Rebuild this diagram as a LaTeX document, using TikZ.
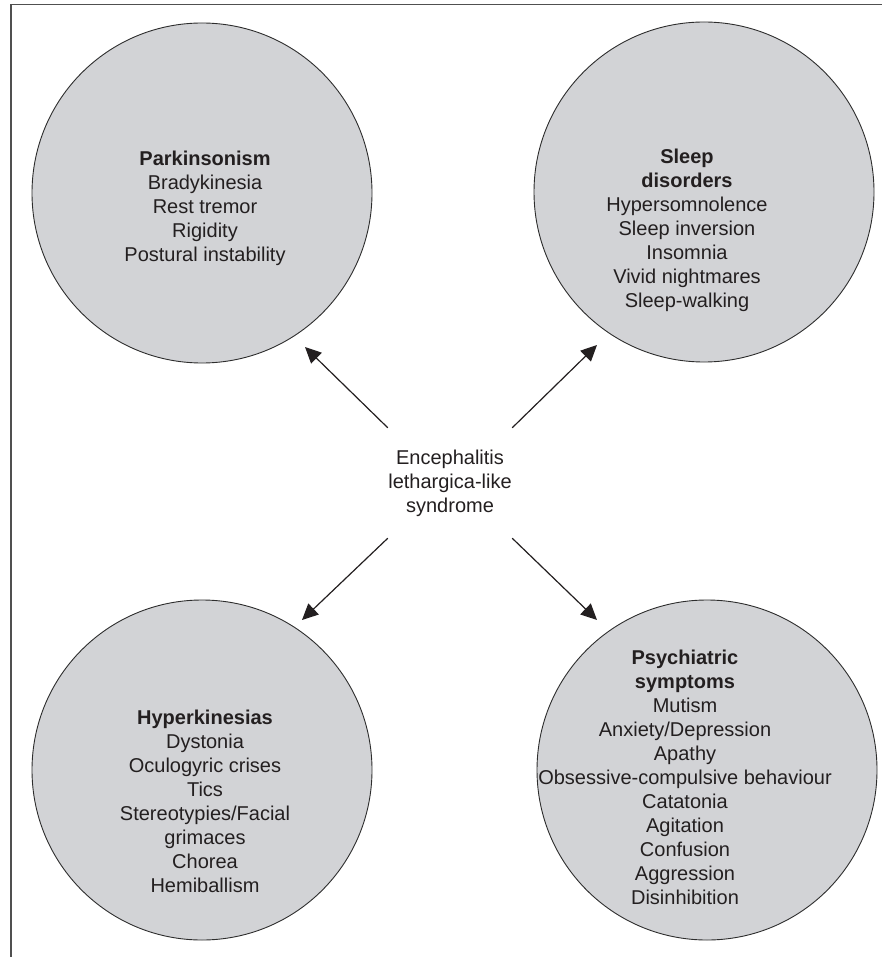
\documentclass[tikz,border=0pt]{standalone}
\usepackage{fontspec}
\setmainfont{Liberation Sans}
\usetikzlibrary{arrows.meta}
\definecolor{circfill}{RGB}{210,211,214}
\definecolor{circline}{RGB}{45,45,45}
\definecolor{txt}{RGB}{35,31,32}
\definecolor{frame}{RGB}{80,80,80}
\tikzset{
  symcircle/.style={circle, draw=circline, line width=0.9pt, fill=circfill, minimum size=340pt, inner sep=0pt},
  symtext/.style={align=center, text=txt, font=\fontsize{20}{24}\selectfont, inner sep=0pt},
  arr/.style={draw=txt, line width=1.2pt, -{Triangle[length=16pt,width=15pt]}},
  hub/.style={symtext, minimum width=124pt, minimum height=110pt}
}
\begin{document}
\begin{tikzpicture}[x=1pt,y=-1pt]
\useasboundingbox (0,0) rectangle (882,957);
\draw[frame, line width=1.6pt] (11,4.5) -- (882,4.5);
\draw[frame, line width=1.6pt] (11,4.5) -- (11,957);
\node[symcircle] (pkc) at (202,193) {};
\node[symcircle] (slc) at (704,192) {};
\node[symcircle] (hkc) at (202,770) {};
\node[symcircle] (psc) at (707,770) {};
\node[symtext] (pk) at (205,208) {\textbf{Parkinsonism}\\Bradykinesia\\Rest tremor\\Rigidity\\Postural instability};
\node[symtext] (sl) at (687,230) {\textbf{Sleep}\\\textbf{disorders}\\Hypersomnolence\\Sleep inversion\\Insomnia\\Vivid nightmares\\Sleep-walking};
\node[symtext] (hk) at (205,801) {\textbf{Hyperkinesias}\\Dystonia\\Oculogyric crises\\Tics\\Stereotypies/Facial\\grimaces\\Chorea\\Hemiballism};
\node[symtext] (ps) at (685,777) {\textbf{Psychiatric}\\\textbf{symptoms}\\Mutism\\Anxiety/Depression\\Apathy\\Obsessive-compulsive behaviour\\Catatonia\\Agitation\\Confusion\\Aggression\\Disinhibition};
\node[hub] (hub) at (450,483) {Encephalitis\\lethargica-like\\syndrome};
\coordinate (t1) at (305,347);
\coordinate (t2) at (597,345);
\coordinate (t3) at (302,620);
\coordinate (t4) at (597,620);
\draw[arr] (hub.north west) -- (t1);
\draw[arr] (hub.north east) -- (t2);
\draw[arr] (hub.south west) -- (t3);
\draw[arr] (hub.south east) -- (t4);
\end{tikzpicture}
\end{document}
